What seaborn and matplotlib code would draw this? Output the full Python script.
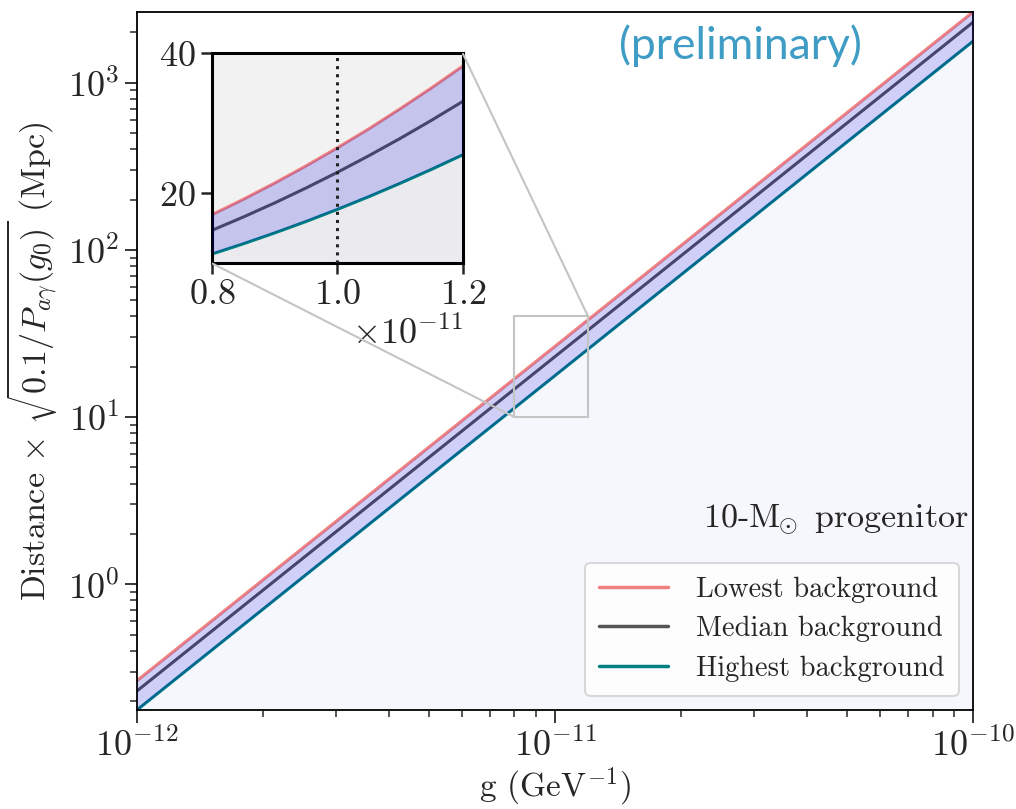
import numpy as np
import pandas as pd
import matplotlib
matplotlib.use("Agg")
import matplotlib.pyplot as plt
import seaborn as sns
from matplotlib.ticker import ScalarFormatter, NullFormatter
from mpl_toolkits.axes_grid1.inset_locator import mark_inset

# Coupling values (GeV^-1) and scaled distance reach (Mpc) per background level
g_vals = [1e-12, 2e-12, 5e-12, 8e-12, 8.5e-12, 9e-12, 9.5e-12, 1e-11,
          1.05e-11, 1.1e-11, 1.15e-11, 1.2e-11, 2e-11, 5e-11, 1e-10]
lowest_bg = [0.265, 1.06, 6.63, 16.96, 19.15, 21.47, 23.92, 26.5,
             29.2, 32.07, 35.05, 38.16, 106.0, 663.0, 2650.0]
median_bg = [0.230, 0.92, 5.75, 14.72, 16.62, 18.63, 20.76, 23.0,
             25.36, 27.83, 30.42, 33.12, 92.0, 575.0, 2300.0]
highest_bg = [0.177, 0.708, 4.43, 11.33, 12.79, 14.34, 15.97, 17.7,
              19.51, 21.42, 23.41, 25.49, 70.8, 443.0, 1770.0]

labels = ["Lowest background", "Median background", "Highest background"]
colors = ["lightcoral", "#555555", "teal"]

inset_xlim = (0.8e-11, 1.2e-11)
inset_ylim = (10, 40)
g0 = 1e-11

df = pd.DataFrame({"g": g_vals, "low": lowest_bg, "med": median_bg, "high": highest_bg})

sns.set_style("ticks")
plt.rcParams["font.family"] = ["cmr10"]
plt.rcParams["mathtext.fontset"] = "cm"
plt.rcParams["axes.formatter.use_mathtext"] = True
plt.rcParams["axes.unicode_minus"] = True

fig = plt.figure(figsize=(10.16, 8.09), dpi=100)
ax = fig.add_axes([0.1348, 0.1224, 0.8229, 0.8628])

ymin, ymax = highest_bg[0], lowest_bg[-1]
band_color = (0.0, 0.0, 0.85, 0.19)

for col, lab, c in zip(["low", "med", "high"], labels, colors):
    sns.lineplot(data=df, x="g", y=col, ax=ax, color=c, lw=2.2, label=lab, zorder=2)
ax.fill_between(df["g"], df["high"], df["low"], color=band_color, lw=0, zorder=3)
ax.fill_between(df["g"], ymin * 0.5, df["high"], color="#f6f7fd", lw=0, zorder=1)

ax.set_xscale("log")
ax.set_yscale("log")
ax.set_xlim(g_vals[0], g_vals[-1])
ax.set_ylim(ymin, ymax)
ax.xaxis.set_minor_formatter(NullFormatter())
ax.yaxis.set_minor_formatter(NullFormatter())
ax.set_xlabel(r"g (GeV$^{-1}$)", fontsize=24, labelpad=2)
ax.set_ylabel(r"Distance $\times$ $\sqrt{0.1/P_{a\gamma}(g_0)}$ (Mpc)", fontsize=24.5, labelpad=6)
ax.tick_params(which="major", labelsize=26, length=9, width=1.3)
ax.tick_params(which="minor", length=5, width=1.1)
for s in ax.spines.values():
    s.set_linewidth(1.3)
    s.set_color("black")

leg = ax.legend(loc="lower right", fontsize=20.5, frameon=True, fancybox=True,
                borderpad=0.5, labelspacing=0.45, handlelength=2.4, handletextpad=1.0)
leg.get_frame().set_edgecolor("#d0d0d0")
leg.get_frame().set_linewidth(1.5)
for h in leg.get_lines():
    h.set_linewidth(2.5)

ax.text(0.995, 0.262, r"10-$\mathrm{M}_{\!\!\odot}$ progenitor", transform=ax.transAxes,
        ha="right", va="baseline", fontsize=24.5)
fig.text(0.729, 0.943, "(preliminary)", family=["Lato", "DejaVu Sans"],
         color="#3f9dc5", fontsize=32, ha="center", va="center")

# Zoomed view around the reference coupling
axins = fig.add_axes([0.2087, 0.6745, 0.2467, 0.2596])
axins.set_facecolor("#f2f2f2")
for col, c in zip(["low", "med", "high"], colors):
    sns.lineplot(data=df, x="g", y=col, ax=axins, color=c, lw=2.2, legend=False, zorder=2)
axins.fill_between(df["g"], df["high"], df["low"], color=band_color, lw=0, zorder=3)
axins.fill_between(df["g"], 0, df["high"], color="#eaeaef", lw=0, zorder=1)
axins.axvline(g0, color="#222222", ls=":", lw=2.2, zorder=4)
axins.set_xlim(*inset_xlim)
axins.set_ylim(*inset_ylim)
axins.set_xticks([0.8e-11, 1.0e-11, 1.2e-11])
axins.set_yticks([20, 40])
fmt = ScalarFormatter(useMathText=True)
axins.xaxis.set_major_formatter(fmt)
axins.set_xlabel("")
axins.set_ylabel("")
axins.tick_params(labelsize=26, length=8, width=1.8)
axins.xaxis.get_offset_text().set_fontsize(26)
for s in axins.spines.values():
    s.set_linewidth(2.2)
    s.set_color("black")

mark_inset(ax, axins, loc1=1, loc2=3, fc="none", ec="#c4c4c4", lw=1.5, zorder=5)

fig.savefig("out.png", dpi=100)
